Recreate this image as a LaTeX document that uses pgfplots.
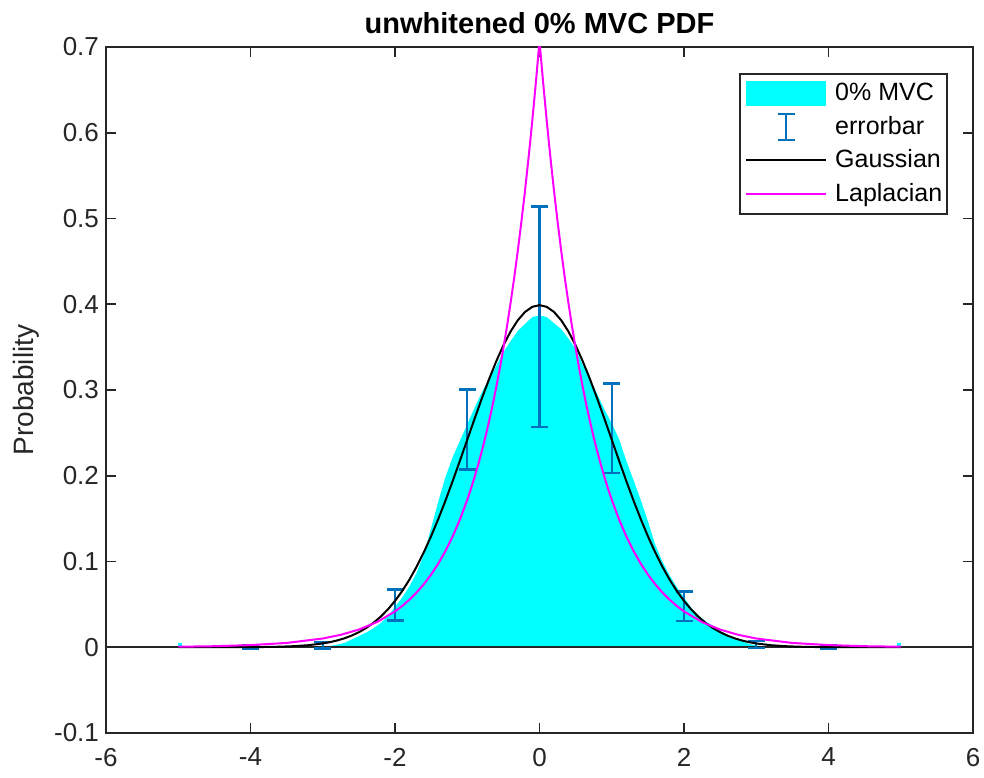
\documentclass[border=0pt]{standalone}
\usepackage{fontspec}
\setmainfont{Liberation Sans}
\usepackage{pgfplots}
\pgfplotsset{compat=1.18}
\definecolor{mblue}{rgb}{0,0.447,0.741}
\definecolor{mcyan}{rgb}{0,1,1}
\definecolor{mmag}{rgb}{1,0,1}
\definecolor{axgray}{rgb}{0.15,0.15,0.15}
\begin{document}
\begin{tikzpicture}
\begin{axis}[
  scale only axis,
  width=433.5pt, height=343pt,
  xmin=-6, xmax=6, ymin=-0.1, ymax=0.7,
  xtick={-6,-4,-2,0,2,4,6},
  ytick={-0.1,0,0.1,0.2,0.3,0.4,0.5,0.6,0.7},
  /pgf/number format/assume math mode=true,
  yticklabel style={/pgf/number format/fixed,/pgf/number format/precision=1},
  xticklabel style={yshift=-4pt},
  ticklabel style={font=\fontsize{13}{15}\selectfont, color=axgray},
  tick align=inside,
  major tick length=5pt,
  tick style={color=axgray, line width=0.8pt},
  axis line style={color=axgray, line width=0.9pt},
  title={unwhitened 0\% MVC PDF},
  title style={at={(axis description cs:0.5,1)}, anchor=base, yshift=0.5pt, font=\bfseries\fontsize{14.5}{17}\selectfont},
  ylabel={Probability},
  ylabel style={at={(axis description cs:-0.0923,0.5)}, anchor=center, rotate=0, font=\fontsize{14}{16}\selectfont, color=axgray},
  legend cell align=left,
  legend style={at={(0.9712,0.9621)}, anchor=north east, draw=axgray, line width=0.8pt,
    font=\fontsize{12.5}{15}\selectfont, inner xsep=2.5pt, inner ysep=2.75pt, row sep=2.2pt,
    nodes={inner xsep=0pt}},
]
% histogram
\addplot[fill=mcyan, draw=none, area legend,
  legend image code/.code={\fill[mcyan] (1.5pt,-6.25pt) rectangle (41.5pt,6.25pt); \path (45.5pt,0pt);}]
coordinates {(-5,0) (-5,0.005) (-4.95,0.005) (-4.95,0) (-3.4,0) (-3.3,0.0002) (-3.2,0.0003) (-3.1,0.0005) (-3.0,0.0008) (-2.9,0.0015) (-2.8,0.003) (-2.7,0.005) (-2.6,0.009) (-2.5,0.013) (-2.4,0.017) (-2.3,0.022) (-2.2,0.028) (-2.1,0.036) (-2.0,0.047) (-1.9,0.058) (-1.8,0.071) (-1.7,0.087) (-1.6,0.108) (-1.5,0.139) (-1.4,0.170) (-1.3,0.199) (-1.2,0.222) (-1.1,0.241) (-1.0,0.260) (-0.9,0.279) (-0.8,0.297) (-0.7,0.313) (-0.6,0.328) (-0.5,0.344) (-0.4,0.357) (-0.3,0.369) (-0.2,0.377) (-0.1,0.385) (0,0.387) (0.1,0.385) (0.2,0.378) (0.3,0.371) (0.4,0.360) (0.5,0.348) (0.6,0.329) (0.7,0.312) (0.8,0.295) (0.9,0.277) (1.0,0.261) (1.1,0.243) (1.2,0.218) (1.3,0.195) (1.4,0.172) (1.5,0.147) (1.6,0.120) (1.7,0.100) (1.8,0.084) (1.9,0.070) (2.0,0.058) (2.1,0.046) (2.2,0.037) (2.3,0.030) (2.4,0.025) (2.5,0.019) (2.6,0.015) (2.7,0.010) (2.8,0.007) (2.9,0.004) (3.0,0.002) (3.1,0.001) (3.2,0.0004) (3.3,0.0002) (3.4,0) (4.95,0) (4.95,0.005) (5,0.005) (5,0)} \closedcycle;
\addlegendentry{0\% MVC}
% baseline
\addplot[forget plot, color=axgray, line width=0.9pt] coordinates {(-6,0) (6,0)};
% error bars
\addplot[color=mblue, draw=none, mark=none,
  legend image code/.code={\draw[mblue, line width=1.1pt] (21.5pt,-6.5pt)--(21.5pt,6.5pt) (17.25pt,-6.5pt)--(25.75pt,-6.5pt) (17.25pt,6.5pt)--(25.75pt,6.5pt); \path (1.5pt,0pt) (45.5pt,0pt);},
  error bars/.cd, y dir=both, y explicit, error mark=-,
  error bar style={line width=1.1pt, color=mblue, draw=mblue},
  error mark options={mark size=4.25pt, line width=1.1pt, color=mblue, draw=mblue, rotate=90}]
  coordinates {
  (-4,0.0002) +- (0,0.0018)
  (-3,0.0025) +- (0,0.004)
  (-2,0.0492) +- (0,0.0181)
  (-1,0.2539) +- (0,0.0467)
  (0,0.3852) +- (0,0.1287)
  (1,0.2552) +- (0,0.0523)
  (2,0.0476) +- (0,0.0173)
  (3,0.003) +- (0,0.004)
  (4,0.0002) +- (0,0.0018)
  };
\addlegendentry{errorbar}
% Gaussian
\addplot[black, line width=1pt, legend image code/.code={\draw[black, line width=1pt] (1.5pt,0pt)--(41.5pt,0pt); \path (45.5pt,0pt);}]
coordinates {(-5,0.0000015) (-4.5,0.000016) (-4,0.00013) (-3.8,0.00029) (-3.6,0.00061) (-3.4,0.00123) (-3.2,0.00238) (-3.0,0.00443) (-2.9,0.00595) (-2.8,0.00792) (-2.7,0.01042) (-2.6,0.01358) (-2.5,0.01753) (-2.4,0.02239) (-2.3,0.02833) (-2.2,0.03547) (-2.1,0.04398) (-2.0,0.05399) (-1.9,0.06562) (-1.8,0.07895) (-1.7,0.09405) (-1.6,0.11092) (-1.5,0.12952) (-1.4,0.14973) (-1.3,0.17137) (-1.2,0.19419) (-1.1,0.21785) (-1.0,0.24197) (-0.9,0.26609) (-0.8,0.28969) (-0.7,0.31225) (-0.6,0.33322) (-0.5,0.35207) (-0.4,0.36827) (-0.3,0.38139) (-0.2,0.39104) (-0.1,0.39695) (0,0.39894) (0.1,0.39695) (0.2,0.39104) (0.3,0.38139) (0.4,0.36827) (0.5,0.35207) (0.6,0.33322) (0.7,0.31225) (0.8,0.28969) (0.9,0.26609) (1.0,0.24197) (1.1,0.21785) (1.2,0.19419) (1.3,0.17137) (1.4,0.14973) (1.5,0.12952) (1.6,0.11092) (1.7,0.09405) (1.8,0.07895) (1.9,0.06562) (2.0,0.05399) (2.1,0.04398) (2.2,0.03547) (2.3,0.02833) (2.4,0.02239) (2.5,0.01753) (2.6,0.01358) (2.7,0.01042) (2.8,0.00792) (2.9,0.00595) (3.0,0.00443) (3.2,0.00238) (3.4,0.00123) (3.6,0.00061) (3.8,0.00029) (4,0.00013) (4.5,0.000016) (5,0.0000015)};
\addlegendentry{Gaussian}
% Laplacian
\addplot[mmag, line width=1pt, legend image code/.code={\draw[mmag, line width=1pt] (1.5pt,0pt)--(41.5pt,0pt); \path (45.5pt,0pt);}]
coordinates {(-5,0.0006) (-4.5,0.0012) (-4,0.0025) (-3.5,0.0050) (-3,0.0102) (-2.75,0.0145) (-2.5,0.0206) (-2.25,0.0293) (-2,0.0418) (-1.9,0.0481) (-1.8,0.0555) (-1.7,0.0639) (-1.6,0.0736) (-1.5,0.0848) (-1.4,0.0976) (-1.3,0.1125) (-1.2,0.1296) (-1.1,0.1492) (-1.0,0.1719) (-0.95,0.1845) (-0.9,0.1980) (-0.85,0.2125) (-0.8,0.2281) (-0.75,0.2448) (-0.7,0.2628) (-0.65,0.2820) (-0.6,0.3027) (-0.55,0.3248) (-0.5,0.3487) (-0.45,0.3742) (-0.4,0.4016) (-0.35,0.4310) (-0.3,0.4626) (-0.25,0.4965) (-0.2,0.5329) (-0.15,0.5720) (-0.1,0.6139) (-0.05,0.6588) (0,0.7071) (0.05,0.6588) (0.1,0.6139) (0.15,0.5720) (0.2,0.5329) (0.25,0.4965) (0.3,0.4626) (0.35,0.4310) (0.4,0.4016) (0.45,0.3742) (0.5,0.3487) (0.55,0.3248) (0.6,0.3027) (0.65,0.2820) (0.7,0.2628) (0.75,0.2448) (0.8,0.2281) (0.85,0.2125) (0.9,0.1980) (0.95,0.1845) (1.0,0.1719) (1.1,0.1492) (1.2,0.1296) (1.3,0.1125) (1.4,0.0976) (1.5,0.0848) (1.6,0.0736) (1.7,0.0639) (1.8,0.0555) (1.9,0.0481) (2,0.0418) (2.25,0.0293) (2.5,0.0206) (2.75,0.0145) (3,0.0102) (3.5,0.0050) (4,0.0025) (4.5,0.0012) (5,0.0006)};
\addlegendentry{Laplacian}
\end{axis}
\pgfresetboundingbox
\path ([shift={(-53pt,-22.5pt)}]current axis.south west) rectangle ([shift={(5.5pt,23.5pt)}]current axis.north east);
\end{tikzpicture}
\end{document}
